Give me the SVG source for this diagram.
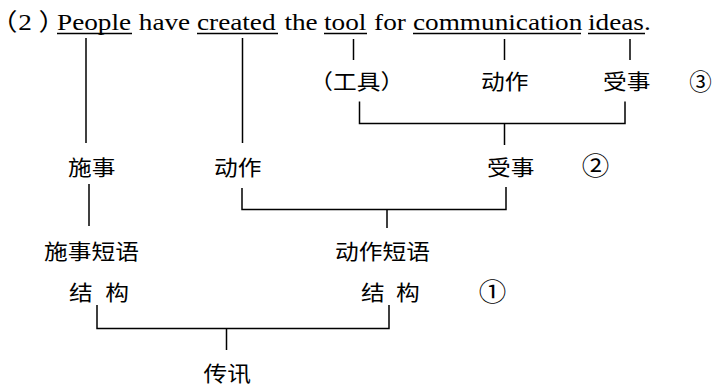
<svg xmlns="http://www.w3.org/2000/svg" width="712" height="388" viewBox="0 0 712 388">
<style>
.zh{font-family:"Noto Sans CJK SC","Noto Sans CJK JP",sans-serif;font-size:21px;fill:#000}
.en{font-family:"Liberation Serif","Noto Sans CJK SC",serif;font-size:24px;fill:#000}
.par{font-feature-settings:"halt"}
.num{font-family:"Noto Sans CJK SC",sans-serif;font-size:25px;fill:#000;text-anchor:middle}
.ln{stroke:#000;stroke-width:1.5;fill:none}
</style>
<rect width="712" height="388" fill="#fff"/>
<g id="sentence">
<text class="en" transform="translate(0,29.5) scale(1.135,1)"><tspan class="par" x="3.5">（</tspan><tspan x="16.1">2</tspan><tspan class="par" x="34">）</tspan><tspan x="50.22">People </tspan><tspan x="122.3">have </tspan><tspan x="173.57">created </tspan><tspan x="250.6">the </tspan><tspan x="285.46">tool </tspan><tspan x="329.6">for </tspan><tspan x="363.88">communication </tspan><tspan x="518.06">ideas.</tspan></text>
<path class="ln" d="M57 33.5H132M197 33.5H278M324 33.5H367M413 33.5H581M588 33.5H645" stroke-width="1.4"/>
</g>
<g id="connectors">
<path class="ln" d="M86 38V143"/>
<path class="ln" d="M242.5 38V143"/>
<path class="ln" d="M353.5 39V60"/>
<path class="ln" d="M504.5 39V60"/>
<path class="ln" d="M630 39V60"/>
<path class="ln" d="M359.5 101.5V123.5H625V101.5M504.5 123.5V145"/>
<path class="ln" d="M89 184V226"/>
<path class="ln" d="M242 188V209.5H506V187M387 209.5V228"/>
<path class="ln" d="M97 305V328.5H389V305M226.5 328.5V350"/>
</g>
<g id="n-tool"><text class="zh" transform="translate(309.3,89) scale(1.13,1)">（工具）</text></g>
<g id="n-action3"><text class="zh" transform="translate(481,89) scale(1.13,1)">动作</text></g>
<g id="n-patient3"><text class="zh" transform="translate(603,89) scale(1.13,1)">受事</text></g>
<g id="n-level3"><text class="num" transform="translate(700.5,89.5)" style="font-size:22.5px">③</text></g>
<g id="n-agent"><text class="zh" transform="translate(68,174.5) scale(1.13,1)">施事</text></g>
<g id="n-action2"><text class="zh" transform="translate(214,174.5) scale(1.13,1)">动作</text></g>
<g id="n-patient2"><text class="zh" transform="translate(487,174.5) scale(1.13,1)">受事</text></g>
<g id="n-level2"><text class="num" transform="translate(595.5,175) scale(1.1,1)">②</text></g>
<g id="n-agent-phrase"><text class="zh" transform="translate(44,258.5) scale(1.13,1)">施事短语</text><text class="zh" transform="translate(69,300) scale(1.13,1)"><tspan x="0">结 </tspan><tspan x="32.2">构</tspan></text></g>
<g id="n-action-phrase"><text class="zh" transform="translate(335,258.5) scale(1.13,1)">动作短语</text><text class="zh" transform="translate(361,300) scale(1.13,1)"><tspan x="0">结 </tspan><tspan x="31">构</tspan></text></g>
<g id="n-level1"><text class="num" transform="translate(492.5,301) scale(1.1,1)">①</text></g>
<g id="n-message"><text class="zh" transform="translate(203.5,381) scale(1.13,1)">传讯</text></g>
</svg>
